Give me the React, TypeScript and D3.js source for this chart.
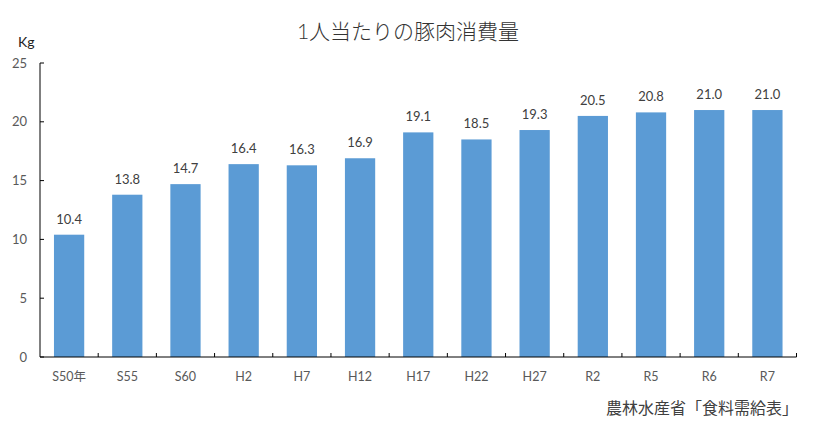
import React from "react";
import * as d3 from "d3";

const categories = ["S50年", "S55", "S60", "H2", "H7", "H12", "H17", "H22", "H27", "R2", "R5", "R6", "R7"];
const values = [10.4, 13.8, 14.7, 16.4, 16.3, 16.9, 19.1, 18.5, 19.3, 20.5, 20.8, 21.0, 21.0];
const yTicks = [0, 5, 10, 15, 20, 25];
const title = "1人当たりの豚肉消費量";
const unit = "Kg";
const source = "農林水産省「食料需給表」";

const W = 815;
const H = 430;
const left = 40;
const right = 796.5;
const top = 63;
const bottom = 357;
const font = "Lato, 'Noto Sans CJK JP', sans-serif";

export default function App() {
  const x = d3.scaleBand<string>().domain(categories).range([left, right]).paddingInner(0.48).paddingOuter(0.24);
  const xb = d3.scaleBand<string>().domain(categories).range([left, right]);
  const y = d3.scaleLinear().domain([0, 25]).range([bottom, top]);
  return (
    <svg width={W} height={H} style={{ position: "absolute", left: 0, top: 0 }} fontFamily={font}>
      <rect width={W} height={H} fill="#fff" />
      <text x={408} y={39} textAnchor="middle" fontSize={21} fontWeight={300} fill="#333">{title}</text>
      <text x={18} y={47} fontSize={14} fill="#222">{unit}</text>
      {values.map((v, i) => (
        <rect key={i} x={x(categories[i])} y={y(v)} width={x.bandwidth()} height={bottom - y(v)} fill="#5b9bd5" />
      ))}
      {values.map((v, i) => (
        <text key={"l" + i} x={x(categories[i])! + x.bandwidth() / 2} y={y(v) - 11} textAnchor="middle" fontSize={13} fill="#404040">{v.toFixed(1)}</text>
      ))}
      <line x1={left} x2={left} y1={top} y2={bottom} stroke="#000" />
      <line x1={left} x2={right} y1={bottom} y2={bottom} stroke="#000" />
      {yTicks.map((t) => (
        <g key={t}>
          <line x1={left} x2={left + 4} y1={y(t)} y2={y(t)} stroke="#000" />
          <text x={27} y={y(t) + 4.5} textAnchor="end" fontSize={13} fill="#595959">{t}</text>
        </g>
      ))}
      {categories.map((c, i) => (
        <line key={"t" + i} x1={xb(c)! + xb.bandwidth()} x2={xb(c)! + xb.bandwidth()} y1={bottom} y2={bottom - 4} stroke="#000" />
      ))}
      {categories.map((c) => (
        <text key={"c" + c} x={xb(c)! + xb.bandwidth() / 2} y={381} textAnchor="middle" fontSize={12.5} fill="#595959">{c}</text>
      ))}
      <text x={798} y={414} textAnchor="end" fontSize={16} fill="#404040">{source}</text>
    </svg>
  );
}
